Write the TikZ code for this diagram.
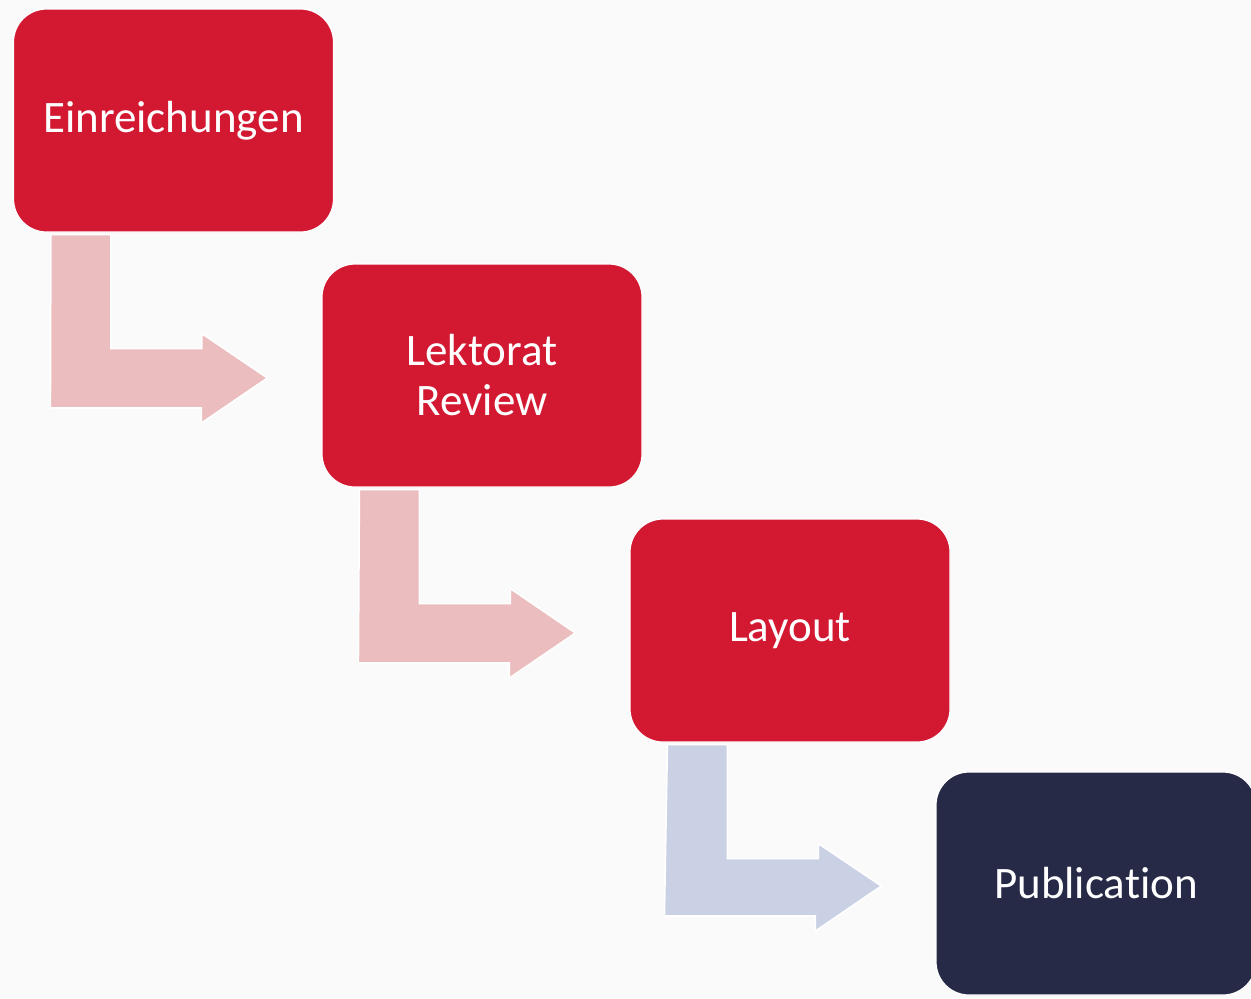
\documentclass[tikz,border=0pt]{standalone}
\usepackage{fontspec}
\setmainfont{Carlito}[Ligatures=NoCommon]
\usetikzlibrary{calc}
\definecolor{stagered}{HTML}{D31932}
\definecolor{stagenavy}{HTML}{262A47}
\definecolor{flowpink}{HTML}{EBBDBF}
\definecolor{flowblue}{HTML}{CAD1E5}
\definecolor{paper}{HTML}{FAFAFA}
\tikzset{stage node/.style={rectangle, rounded corners=16.5pt, draw=white,
    line width=0.6pt, fill=#1, text=white, minimum width=160pt,
    minimum height=111.5pt, inner sep=0pt, align=center,
    font=\fontsize{22.5}{25}\selectfont}}
\tikzset{bent arrow/.style={fill=#1, draw=white, line width=0.8pt}}
\newcommand{\bentarrow}[3]{%
  \draw [bent arrow=#3] ($(#1.south west)+(38,2)$) -- ++(60,0) -- ++(0,114)
    -- ++(91,0) -- ++(0,-15) -- ($(#2.west)+(-54,2.5)$) -- ++(-66,45)
    -- ++(0,-15) -- ++(-151,0) -- cycle;}

\begin{document}
\begin{tikzpicture}
  [x=0.5pt, y=-0.5pt]
  \fill [paper] (0,0) rectangle (1251,998);
  \useasboundingbox (0,0) rectangle (1251,998);
  \clip (0,0) rectangle (1251,998);

  \node [stage node=stagered]  (submit)  at ( 173.5, 120.5) {Einreichungen};
  \node [stage node=stagered]  (review)  at ( 482.0, 375.5) {Lektorat\\Review};
  \node [stage node=stagered]  (layout)  at ( 790.0, 630.5) {Layout};
  \node [stage node=stagenavy] (publish) at (1096.0, 883.5) {Publication};

  \bentarrow{submit}{review}{flowpink}
  \bentarrow{review}{layout}{flowpink}
  \bentarrow{layout}{publish}{flowblue}
\end{tikzpicture}
\end{document}
